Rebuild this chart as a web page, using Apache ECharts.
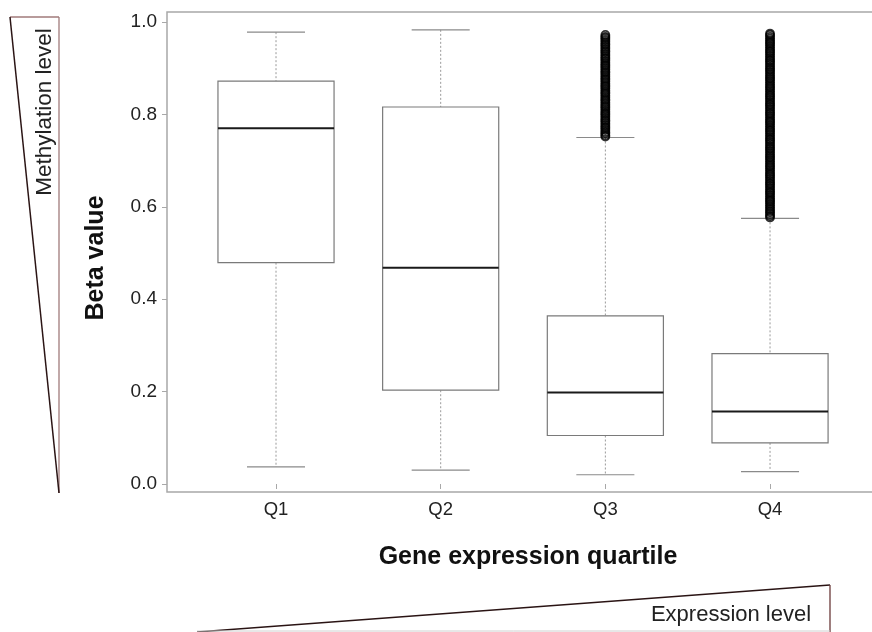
<!DOCTYPE html>
<html>
<head>
<meta charset="utf-8">
<script src="https://cdn.jsdelivr.net/npm/echarts@6/dist/echarts.min.js"></script>
<style>html,body{margin:0;padding:0;background:#fff}#c{width:872px;height:632px}</style>
</head>
<body>
<div id="c"></div>
<script>
var categories = ['Q1', 'Q2', 'Q3', 'Q4'];
var whiskerLow  = [0.037, 0.030, 0.020, 0.027];
var quartile1   = [0.479, 0.203, 0.105, 0.089];
var median      = [0.770, 0.468, 0.198, 0.157];
var quartile3   = [0.872, 0.816, 0.364, 0.282];
var whiskerHigh = [0.978, 0.983, 0.750, 0.575];
var outliersQ3 = [0.752, 0.755, 0.759, 0.762, 0.766, 0.770, 0.773, 0.777, 0.781, 0.785, 0.788, 0.792, 0.796, 0.800, 0.803, 0.807, 0.811, 0.815, 0.818, 0.822, 0.826, 0.830, 0.833, 0.837, 0.841, 0.845, 0.848, 0.852, 0.856, 0.860, 0.863, 0.867, 0.871, 0.875, 0.878, 0.882, 0.886, 0.890, 0.893, 0.897, 0.901, 0.905, 0.908, 0.912, 0.916, 0.920, 0.923, 0.927, 0.931, 0.935, 0.938, 0.942, 0.946, 0.950, 0.953, 0.957, 0.961, 0.965, 0.968, 0.972];
var outliersQ4 = [0.577, 0.580, 0.584, 0.588, 0.591, 0.595, 0.599, 0.603, 0.607, 0.611, 0.614, 0.618, 0.622, 0.626, 0.630, 0.633, 0.637, 0.641, 0.645, 0.649, 0.652, 0.656, 0.660, 0.664, 0.668, 0.671, 0.675, 0.679, 0.683, 0.687, 0.690, 0.694, 0.698, 0.702, 0.706, 0.709, 0.713, 0.717, 0.721, 0.725, 0.728, 0.732, 0.736, 0.740, 0.744, 0.747, 0.751, 0.755, 0.759, 0.763, 0.766, 0.770, 0.774, 0.778, 0.782, 0.785, 0.789, 0.793, 0.797, 0.801, 0.804, 0.808, 0.812, 0.816, 0.820, 0.823, 0.827, 0.831, 0.835, 0.839, 0.842, 0.846, 0.850, 0.854, 0.858, 0.861, 0.865, 0.869, 0.873, 0.877, 0.880, 0.884, 0.888, 0.892, 0.896, 0.899, 0.903, 0.907, 0.911, 0.915, 0.918, 0.922, 0.926, 0.930, 0.934, 0.937, 0.941, 0.945, 0.949, 0.953, 0.956, 0.960, 0.964, 0.968, 0.972, 0.975];
var yMin = 0, yMax = 1, yStep = 0.2;

var FONT = '"Liberation Sans", Arial, Helvetica, sans-serif';

var boxData = categories.map(function (c, i) {
  return [i, whiskerLow[i], quartile1[i], median[i], quartile3[i], whiskerHigh[i]];
});
var outlierData = [];
outliersQ3.forEach(function (v) { outlierData.push([2, v]); });
outliersQ4.forEach(function (v) { outlierData.push([3, v]); });

function renderBox(params, api) {
  var x = api.value(0);
  var pLow = api.coord([x, api.value(1)]);
  var pQ1 = api.coord([x, api.value(2)]);
  var pMed = api.coord([x, api.value(3)]);
  var pQ3 = api.coord([x, api.value(4)]);
  var pHigh = api.coord([x, api.value(5)]);
  var band = api.size([1, 0])[0];
  var bw = band * 0.705;
  var cw = bw * 0.5;
  var cx = pMed[0];
  var grey = '#8a8a8a';
  return {
    type: 'group',
    children: [
      { type: 'line', shape: { x1: cx, y1: pHigh[1], x2: cx, y2: pQ3[1] },
        style: { stroke: '#9a9a9a', lineWidth: 1, lineDash: [2, 2] } },
      { type: 'line', shape: { x1: cx, y1: pQ1[1], x2: cx, y2: pLow[1] },
        style: { stroke: '#9a9a9a', lineWidth: 1, lineDash: [2, 2] } },
      { type: 'line', shape: { x1: cx - cw / 2, y1: pHigh[1], x2: cx + cw / 2, y2: pHigh[1] },
        style: { stroke: grey, lineWidth: 1.2 } },
      { type: 'line', shape: { x1: cx - cw / 2, y1: pLow[1], x2: cx + cw / 2, y2: pLow[1] },
        style: { stroke: grey, lineWidth: 1.2 } },
      { type: 'rect', shape: { x: cx - bw / 2, y: pQ3[1], width: bw, height: pQ1[1] - pQ3[1] },
        style: { fill: '#fff', stroke: '#7a7a7a', lineWidth: 1.2 } },
      { type: 'line', shape: { x1: cx - bw / 2, y1: pMed[1], x2: cx + bw / 2, y2: pMed[1] },
        style: { stroke: '#1a1a1a', lineWidth: 2 } }
    ]
  };
}

var chart = echarts.init(document.getElementById('c'), null, { renderer: 'canvas' });
chart.setOption({
  backgroundColor: '#fff',
  animation: false,
  grid: [
    { left: 167, top: 12, width: 720, height: 480, show: true, borderColor: '#a8a8a8', borderWidth: 1.5,
      backgroundColor: 'transparent', outerBoundsMode: 'none', containLabel: false, z: 0 },
    { left: 193.67, top: 22, width: 658.7, height: 462, show: false, outerBoundsMode: 'none', containLabel: false }
  ],
  xAxis: [
    { gridIndex: 0, type: 'value', show: false, min: 0, max: 1 },
    { gridIndex: 1, type: 'category', data: categories, boundaryGap: true, offset: 8,
      axisLine: { show: false },
      axisTick: { show: true, alignWithLabel: true, length: 5, lineStyle: { color: '#a8a8a8', width: 1 } },
      axisLabel: { margin: 8, color: '#222', fontSize: 18.5, fontFamily: FONT },
      name: 'Gene expression quartile', nameLocation: 'middle', nameGap: 53,
      nameTextStyle: { fontSize: 25, fontWeight: 'bold', color: '#111', fontFamily: FONT, padding: [0, 0, 0, 10] }
    }
  ],
  yAxis: [
    { gridIndex: 0, type: 'value', show: false, min: 0, max: 1 },
    { gridIndex: 1, type: 'value', min: yMin, max: yMax, interval: yStep, offset: 26.67,
      axisLine: { show: false },
      axisTick: { show: true, length: 5, lineStyle: { color: '#a8a8a8', width: 1 } },
      splitLine: { show: false },
      axisLabel: { margin: 10, color: '#222', fontSize: 19, fontFamily: FONT,
        formatter: function (v) { return v.toFixed(1); } },
      name: 'Beta value', nameLocation: 'middle', nameGap: 58, nameRotate: 90,
      nameTextStyle: { fontSize: 25, fontWeight: 'bold', color: '#111', fontFamily: FONT, padding: [0, 10, 0, 0] }
    }
  ],
  graphic: [
    { type: 'line', shape: { x1: 10, y1: 17, x2: 59, y2: 17 }, style: { stroke: '#a07a7a', lineWidth: 1.3 } },
    { type: 'line', shape: { x1: 59, y1: 17, x2: 59, y2: 493 }, style: { stroke: '#a07a7a', lineWidth: 1.3 } },
    { type: 'line', shape: { x1: 10, y1: 17, x2: 59, y2: 493 }, style: { stroke: '#2a1414', lineWidth: 1.5 } },
    { type: 'text', x: 45, y: 112, rotation: Math.PI / 2,
      style: { text: 'Methylation level', fontSize: 22.5, fontFamily: FONT, fill: '#222', align: 'center', verticalAlign: 'middle' } },
    { type: 'line', shape: { x1: 197, y1: 632, x2: 830, y2: 585 }, style: { stroke: '#2a1414', lineWidth: 1.5 } },
    { type: 'line', shape: { x1: 830, y1: 585, x2: 830, y2: 632 }, style: { stroke: '#6a3a3a', lineWidth: 1.3 } },
    { type: 'line', shape: { x1: 197, y1: 631, x2: 830, y2: 631 }, style: { stroke: '#d0d0d0', lineWidth: 1 } },
    { type: 'text', x: 731, y: 615,
      style: { text: 'Expression level', fontSize: 22, fontFamily: FONT, fill: '#222', align: 'center', verticalAlign: 'middle' } }
  ],
  series: [
    { type: 'custom', xAxisIndex: 1, yAxisIndex: 1, data: boxData, renderItem: renderBox,
      encode: { x: 0, y: [1, 2, 3, 4, 5] }, z: 2 },
    { type: 'scatter', xAxisIndex: 1, yAxisIndex: 1, data: outlierData, symbol: 'circle', symbolSize: 8,
      itemStyle: { color: 'rgba(0,0,0,0)', borderColor: '#000', borderWidth: 1.8 }, z: 3 }
  ]
});
</script>
</body>
</html>
